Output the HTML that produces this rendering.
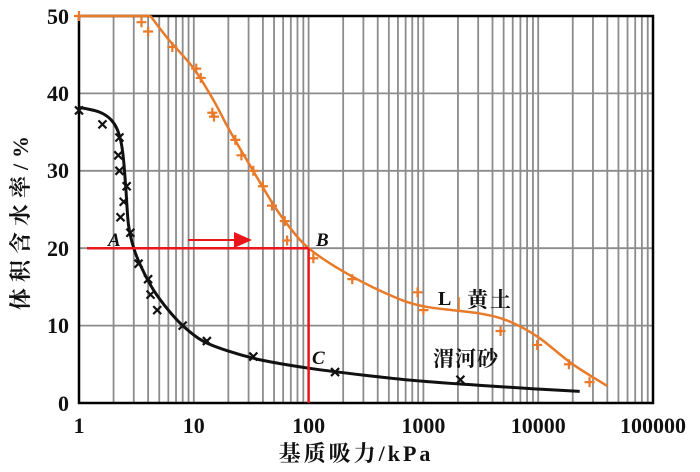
<!DOCTYPE html>
<html><head><meta charset="utf-8"><style>
body{margin:0;background:#fff;width:700px;height:467px;overflow:hidden}
text{font-family:"Liberation Serif","Noto Serif CJK SC",serif;font-weight:bold;fill:#111}
</style></head><body>
<svg id="s" width="700" height="467" xmlns="http://www.w3.org/2000/svg"></svg>
<script>
const X=v=>79+114.8*Math.log10(v), Y=w=>403-7.74*w;
let h='';
for(let d=0;d<5;d++)for(let k=1;k<10;k++){let v=Math.pow(10,d)*k;if(v==1)continue;let x=X(v);h+=`<line x1="${x}" y1="16" x2="${x}" y2="403" stroke="#8c8c8c" stroke-width="1.8"/>`;}
for(let w=10;w<50;w+=10)h+=`<line x1="79" y1="${Y(w)}" x2="653" y2="${Y(w)}" stroke="#8c8c8c" stroke-width="1.8"/>`;
h+=`<rect x="79" y="16" width="574" height="387" fill="none" stroke="#000" stroke-width="2.5"/>`;
function curve(pts,c,w){let p=pts.map(a=>[X(a[0]),Y(a[1])]);let s='M'+p[0][0].toFixed(1)+','+p[0][1].toFixed(1);
for(let i=0;i<p.length-1;i++){let p0=p[i-1]||p[i],p1=p[i],p2=p[i+1],p3=p[i+2]||p2;
let c1=[p1[0]+(p2[0]-p0[0])/6,p1[1]+(p2[1]-p0[1])/6],c2=[p2[0]-(p3[0]-p1[0])/6,p2[1]-(p3[1]-p1[1])/6];
s+=` C${c1[0].toFixed(1)},${c1[1].toFixed(1)} ${c2[0].toFixed(1)},${c2[1].toFixed(1)} ${p2[0].toFixed(1)},${p2[1].toFixed(1)}`;}
return `<path d="${s}" fill="none" stroke="${c}" stroke-width="${w}" stroke-linejoin="round"/>`;}
h+=curve([[1,38.2],[1.5,37.6],[1.9,36.6],[2.2,35],[2.4,32.5],[2.55,28],[2.7,23],[3,20],[3.5,17.5],[4.5,14.5],[6,12],[8,10],[12,8],[20,6.7],[40,5.5],[100,4.5],[300,3.6],[1000,2.8],[3000,2.3],[10000,1.8],[23000,1.5]],'#111',3);
h+=`<line x1="${X(1)}" y1="${Y(50)}" x2="${X(4.2)}" y2="${Y(50)}" stroke="#e87a2a" stroke-width="2.5"/>`;
h+=curve([[4.2,50],[6,47],[10,43.2],[15,39],[20,35.5],[30,31],[50,25.5],[70,22.5],[100,20],[200,17],[500,14],[1000,12.5],[3000,11.6],[5500,10.6],[10000,8.5],[20000,5],[40000,2.2]],'#e87a2a',2.5);
[[1,37.8],[1.6,36],[2.25,34.3],[2.2,32],[2.25,30],[2.6,28],[2.45,26],[2.3,24],[2.8,22],[3.3,18],[4,16],[4.2,14],[4.8,12],[8,10],[13,8],[33,6],[170,4],[2100,3]].forEach(a=>{let x=X(a[0]),y=Y(a[1]);h+=`<path d="M${x-4},${y-4}L${x+4},${y+4}M${x+4},${y-4}L${x-4},${y+4}" stroke="#111" stroke-width="2.2"/>`;});
[[1,50],[3.5,49.2],[4,48],[6.5,46],[10.5,43.2],[11.5,42],[14.5,37.5],[15,37],[23,34],[26,32],[33,30],[40,28],[48,25.5],[62,23.5],[65,21],[110,18.7],[240,16],[890,14.3],[1000,12],[4700,9.3],[9800,7.5],[18500,5],[28000,2.7]].forEach(a=>{let x=X(a[0]),y=Y(a[1]);h+=`<path d="M${x-5},${y}L${x+5},${y}M${x},${y-5}L${x},${y+5}" stroke="#e87a2a" stroke-width="2.2"/>`;});
h+=`<line x1="87" y1="${Y(20)}" x2="${X(100)}" y2="${Y(20)}" stroke="#e8161a" stroke-width="2.5"/>`;
h+=`<line x1="${X(100)}" y1="${Y(20)}" x2="${X(100)}" y2="403" stroke="#e8161a" stroke-width="2.5"/>`;
h+=`<line x1="188" y1="240" x2="238" y2="240" stroke="#e8161a" stroke-width="2"/><polygon points="234,232 252,240 234,248" fill="#e8161a"/>`;
h+=`<text x="108" y="246" font-size="19" font-style="italic">A</text><text x="316" y="246" font-size="19" font-style="italic">B</text><text x="312" y="364" font-size="19" font-style="italic">C</text>`;
h+=`<text x="438" y="305" font-size="20">L</text><line x1="459" y1="297" x2="459" y2="310" stroke="#e87a2a" stroke-width="1.5"/><text x="467" y="307" font-size="21" letter-spacing="2">黄土</text>`;
h+=`<text x="433" y="366" font-size="21" letter-spacing="1">渭河砂</text>`;
[[0,403],[10,325],[20,248],[30,170],[40,93],[50,16]].forEach(a=>h+=`<text x="69" y="${a[1]+8}" font-size="22" text-anchor="end">${a[0]}</text>`);
['1','10','100','1000','10000','100000'].forEach((t,i)=>h+=`<text x="${79+114.8*i}" y="433" font-size="22" text-anchor="middle">${t}</text>`);
h+=`<text x="356" y="461" font-size="22" letter-spacing="3" text-anchor="middle">基质吸力/kPa</text>`;
h+=`<text transform="translate(28,220) rotate(-90)" font-size="22" letter-spacing="6" text-anchor="middle">体积含水率/%</text>`;
document.getElementById('s').innerHTML=h;
</script>
</body></html>
